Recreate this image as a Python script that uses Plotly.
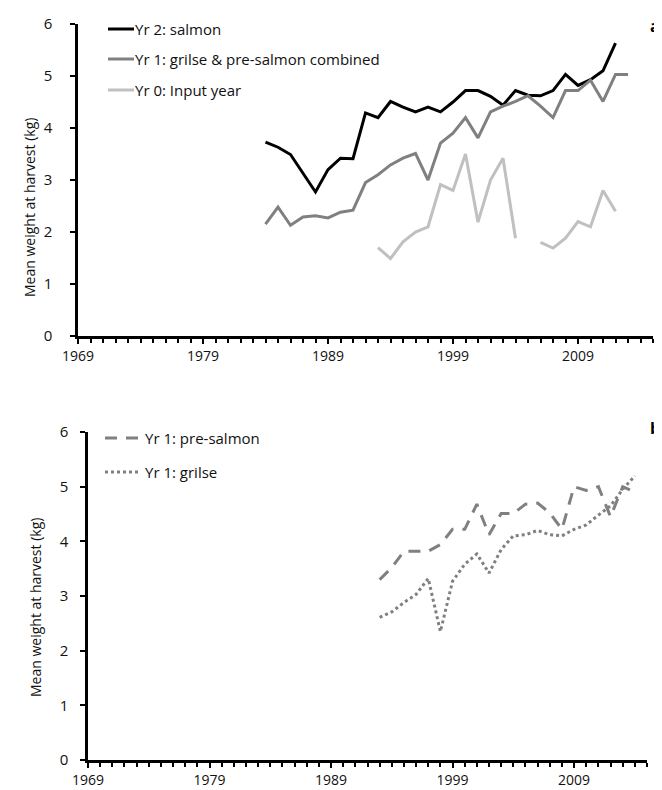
import plotly.graph_objects as go

W, H = 662, 790

# ---------------- data ----------------
years_a = list(range(1984, 2014))
salmon_yr2 = [3.73, 3.63, 3.49, 3.13, 2.77, 3.20, 3.42, 3.41, 4.29, 4.20,
              4.51, 4.40, 4.31, 4.40, 4.31, 4.50, 4.72, 4.72, 4.61, 4.44,
              4.72, 4.63, 4.62, 4.72, 5.03, 4.82, 4.93, 5.10, 5.63, None]
combined_yr1 = [2.15, 2.48, 2.13, 2.29, 2.31, 2.27, 2.38, 2.42, 2.95, 3.10,
                3.29, 3.42, 3.51, 3.00, 3.71, 3.90, 4.20, 3.81, 4.31, 4.42,
                4.51, 4.62, 4.42, 4.20, 4.72, 4.72, 4.92, 4.51, 5.03, 5.03]
input_yr0 = [None, None, None, None, None, None, None, None, None, 1.70,
             1.49, 1.81, 2.00, 2.10, 2.91, 2.80, 3.50, 2.19, 3.00, 3.42,
             1.88, None, 1.80, 1.69, 1.88, 2.20, 2.10, 2.80, 2.40, None]

years_b = list(range(1993, 2015))
presalmon_yr1 = [3.30, 3.52, 3.82, 3.82, 3.82, 3.94, 4.22, 4.22, 4.68, 4.12,
                 4.51, 4.51, 4.68, 4.70, 4.52, 4.22, 5.00, 4.93, 5.00, 4.45,
                 5.00, 4.90]
grilse_yr1 = [2.61, 2.71, 2.88, 3.03, 3.32, 2.35, 3.27, 3.58, 3.77, 3.42,
              3.85, 4.10, 4.12, 4.20, 4.12, 4.10, 4.22, 4.30, 4.48, 4.65,
              4.95, 5.20]

x_ticks = [1969, 1979, 1989, 1999, 2009]
y_ticks = [0, 1, 2, 3, 4, 5, 6]
y_title = "Mean weight at harvest (kg)"

names_a = ["Yr 2: salmon", "Yr 1: grilse & pre-salmon combined", "Yr 0: Input year"]
names_b = ["Yr 1: pre-salmon", "Yr 1: grilse"]

# ---------------- styles ----------------
FONT = "Open Sans"
TXT = "#111111"
BLACK = "#000000"
MID = "#808080"
LIGHT = "#c0c0c0"

def px_x(v):
    return v / W

def px_y(v):
    return 1 - v / H

fig = go.Figure()

fig.add_trace(go.Scatter(x=years_a, y=salmon_yr2, mode="lines", name=names_a[0],
                         line=dict(color=BLACK, width=3), xaxis="x", yaxis="y",
                         showlegend=False))
fig.add_trace(go.Scatter(x=years_a, y=combined_yr1, mode="lines", name=names_a[1],
                         line=dict(color=MID, width=3), xaxis="x", yaxis="y",
                         showlegend=False))
fig.add_trace(go.Scatter(x=years_a, y=input_yr0, mode="lines", name=names_a[2],
                         line=dict(color=LIGHT, width=3), xaxis="x", yaxis="y",
                         showlegend=False))
fig.add_trace(go.Scatter(x=years_b, y=presalmon_yr1, mode="lines", name=names_b[0],
                         line=dict(color=MID, width=3, dash="12px,9px"),
                         xaxis="x2", yaxis="y2", showlegend=False))
fig.add_trace(go.Scatter(x=years_b, y=grilse_yr1, mode="lines", name=names_b[1],
                         line=dict(color=MID, width=3, dash="3px,3px"),
                         xaxis="x2", yaxis="y2", showlegend=False))

def xaxis_def(d0, d1, anchor):
    return dict(domain=[d0, d1], anchor=anchor, range=[1969, 2015],
                automargin=False,
                tickvals=x_ticks, ticktext=[str(t) for t in x_ticks],
                showline=True, linecolor=BLACK, linewidth=2.5,
                ticks="outside", ticklen=5, tickwidth=2, tickcolor=BLACK,
                minor=dict(tick0=1969, dtick=1, ticks="outside", ticklen=4,
                           tickwidth=2, tickcolor=BLACK, showgrid=False),
                showgrid=False, zeroline=False, ticklabelstandoff=0,
                tickfont=dict(family=FONT, size=14, color=TXT))

def yaxis_def(d0, d1, anchor, standoff):
    return dict(domain=[d0, d1], anchor=anchor, range=[0, 6],
                automargin=False,
                tickvals=y_ticks, showline=True, linecolor=BLACK, linewidth=2.5,
                ticks="outside", ticklen=5, tickwidth=2, tickcolor=BLACK,
                showgrid=False, zeroline=False, ticklabelstandoff=standoff,
                tickfont=dict(family=FONT, size=15, color=TXT))

fig.update_layout(
    template="none",
    width=W, height=H,
    margin=dict(l=0, r=0, t=0, b=0, pad=0, autoexpand=False),
    paper_bgcolor="white", plot_bgcolor="white",
    showlegend=False,
    xaxis=xaxis_def(px_x(70), px_x(645), "y"),
    yaxis=yaxis_def(px_y(328), px_y(16), "x", 15),
    xaxis2=xaxis_def(px_x(80), px_x(639), "y2"),
    yaxis2=yaxis_def(px_y(752), px_y(424), "x2", 9),
)

annotations = []
shapes = []

# y titles
annotations.append(dict(x=px_x(21), y=px_y(200), xref="paper", yref="paper",
                        text=y_title, textangle=-90, showarrow=False,
                        xanchor="center", yanchor="middle",
                        font=dict(family=FONT, size=14, color=TXT)))
annotations.append(dict(x=px_x(27), y=px_y(600), xref="paper", yref="paper",
                        text=y_title, textangle=-90, showarrow=False,
                        xanchor="center", yanchor="middle",
                        font=dict(family=FONT, size=14, color=TXT)))

# panel letters
annotations.append(dict(x=px_x(653), y=px_y(18), xref="paper", yref="paper",
                        text="<b>a</b>", showarrow=False, xanchor="right",
                        yanchor="middle", borderpad=0,
                        font=dict(family=FONT, size=16, color=BLACK)))
annotations.append(dict(x=px_x(653), y=px_y(420), xref="paper", yref="paper",
                        text="<b>b</b>", showarrow=False, xanchor="right",
                        yanchor="middle", borderpad=0,
                        font=dict(family=FONT, size=16, color=BLACK)))

# legend panel a
rows_a = [21, 51, 82]
cols_a = [BLACK, MID, LIGHT]
for name, yy, col in zip(names_a, rows_a, cols_a):
    shapes.append(dict(type="line", xref="paper", yref="paper",
                       x0=px_x(100), x1=px_x(126), y0=px_y(yy), y1=px_y(yy),
                       line=dict(color=col, width=3)))
    annotations.append(dict(x=px_x(125), y=px_y(yy), xref="paper", yref="paper",
                            text=name, showarrow=False, xanchor="left",
                            yanchor="middle",
                            font=dict(family=FONT, size=15, color=TXT)))

# legend panel b
rows_b = [430, 464]
dashes_b = ["12px,9px", "3px,3px"]
for name, yy, dsh in zip(names_b, rows_b, dashes_b):
    shapes.append(dict(type="line", xref="paper", yref="paper",
                       x0=px_x(97), x1=px_x(133), y0=px_y(yy), y1=px_y(yy),
                       line=dict(color=MID, width=3, dash=dsh)))
    annotations.append(dict(x=px_x(135), y=px_y(yy), xref="paper", yref="paper",
                            text=name, showarrow=False, xanchor="left",
                            yanchor="middle",
                            font=dict(family=FONT, size=15, color=TXT)))

fig.update_layout(annotations=annotations, shapes=shapes)

fig.write_html("out.html")
